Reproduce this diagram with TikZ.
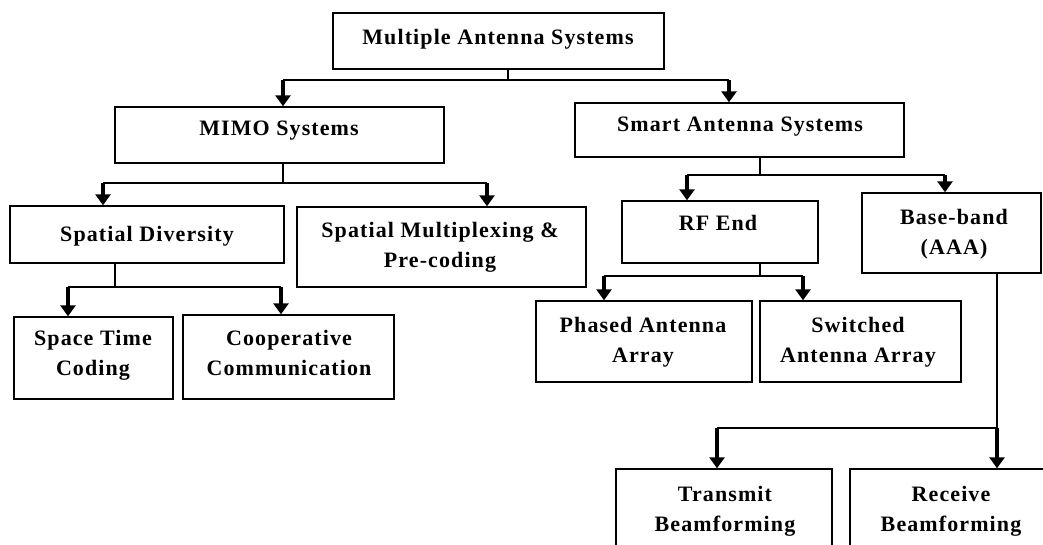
\documentclass[tikz,border=0pt]{standalone}
\usepackage{fontspec}
\setmainfont{Liberation Serif}[LetterSpace=5]
\usetikzlibrary{arrows.meta}
\begin{document}
\begin{tikzpicture}[x=1pt,y=-1pt,
  box/.style={draw, line width=1.4pt, inner sep=0pt},
  bus/.style={line width=1.3pt},
  arr/.style={line width=3.5pt, -{Triangle[width=15pt,length=11pt]}},
  lbl/.style={font=\fontsize{22}{30}\selectfont\bfseries, align=center, anchor=base, inner sep=0pt}]
\useasboundingbox (0,0) rectangle (1043,544);
\clip (0,0) rectangle (1043,544);
% boxes
\node[box, minimum width=331pt, minimum height=56pt] (root) at (498.5,41) {};
\node[box, minimum width=329pt, minimum height=56pt] (mimo) at (279.5,135) {};
\node[box, minimum width=329pt, minimum height=54pt] (smart) at (739.5,130) {};
\node[box, minimum width=274pt, minimum height=57pt] (sd) at (147,234.5) {};
\node[box, minimum width=289pt, minimum height=80pt] (sm) at (441.5,247) {};
\node[box, minimum width=159pt, minimum height=82pt] (stc) at (93.5,358) {};
\node[box, minimum width=211pt, minimum height=84pt] (coop) at (288.5,357) {};
\node[box, minimum width=196pt, minimum height=62pt] (rf) at (720,232) {};
\node[box, minimum width=179pt, minimum height=80pt] (bb) at (951.5,233) {};
\node[box, minimum width=216pt, minimum height=81pt] (ph) at (644,341.5) {};
\node[box, minimum width=201pt, minimum height=81pt] (sw) at (860.5,341.5) {};
\node[box, minimum width=216pt, minimum height=101pt] (tx) at (724,519.5) {};
\node[box, minimum width=202pt, minimum height=101pt] (rx) at (951,519.5) {};
% labels (anchor = baseline of last line)
\node[lbl] (rootT) at (498,44) {Multiple Antenna Systems};
\node[lbl] (mimoT) at (279,135) {MIMO Systems};
\node[lbl] (smartT) at (740,131) {Smart Antenna Systems};
\node[lbl] (sdT) at (147,241) {Spatial Diversity};
\node[lbl] (smT) at (440,267) {Spatial Multiplexing \&\\Pre-coding};
\node[lbl] (stcT) at (93,375) {Space Time\\Coding};
\node[lbl] (coopT) at (289,375) {Cooperative\\Communication};
\node[lbl] (rfT) at (718,230) {RF End};
\node[lbl] (bbT) at (954,254) {Base-band\\(AAA)};
\node[lbl] (phT) at (643,362) {Phased Antenna\\Array};
\node[lbl] (swT) at (858,362) {Switched\\Antenna Array};
\node[lbl] (txT) at (725,531) {Transmit\\Beamforming};
\node[lbl] (rxT) at (951,531) {Receive\\Beamforming};
% root connectors
\coordinate (r0) at (508,80);
\coordinate (rL) at (283,80);
\coordinate (rR) at (729,80);
\draw[bus] (root.south -| r0) -- (r0);
\draw[bus] (rL) -- (rR);
\draw[arr] (rL) -- (rL |- mimo.north);
\draw[arr] (rR) -- (rR |- smart.north);
% MIMO connectors
\coordinate (m0) at (283,183);
\coordinate (mL) at (103,183);
\coordinate (mR) at (487,183);
\draw[bus] (mimo.south -| m0) -- (m0);
\draw[bus] (mL) -- (mR);
\draw[arr] (mL) -- (mL |- sd.north);
\draw[arr] (mR) -- (mR |- sm.north);
% Smart connectors
\coordinate (s0) at (760,175);
\coordinate (sL) at (687,175);
\coordinate (sR) at (945,175);
\draw[bus] (smart.south -| s0) -- (s0);
\draw[bus] (sL) -- (sR);
\draw[arr] (sL) -- (sL |- rf.north);
\draw[arr] (sR) -- (sR |- bb.north);
% Spatial diversity connectors
\coordinate (d0) at (115,287);
\coordinate (dL) at (68,287);
\coordinate (dR) at (281,287);
\draw[bus] (sd.south -| d0) -- (d0);
\draw[bus] (dL) -- (dR);
\draw[arr] (dL) -- (dL |- stc.north);
\draw[arr] (dR) -- (dR |- coop.north);
% RF end connectors
\coordinate (f0) at (760,276);
\coordinate (fL) at (604,276);
\coordinate (fR) at (803,276);
\draw[bus] (rf.south -| f0) -- (f0);
\draw[bus] (fL) -- (fR);
\draw[arr] (fL) -- (fL |- ph.north);
\draw[arr] (fR) -- (fR |- sw.north);
% Base-band connectors
\coordinate (b0) at (997,428);
\coordinate (bL) at (717,428);
\draw[bus] (bb.south -| b0) -- (b0);
\draw[bus] (bL) -- (b0);
\draw[arr] (bL) -- (bL |- tx.north);
\draw[arr] (b0) -- (b0 |- rx.north);
\end{tikzpicture}
\end{document}
